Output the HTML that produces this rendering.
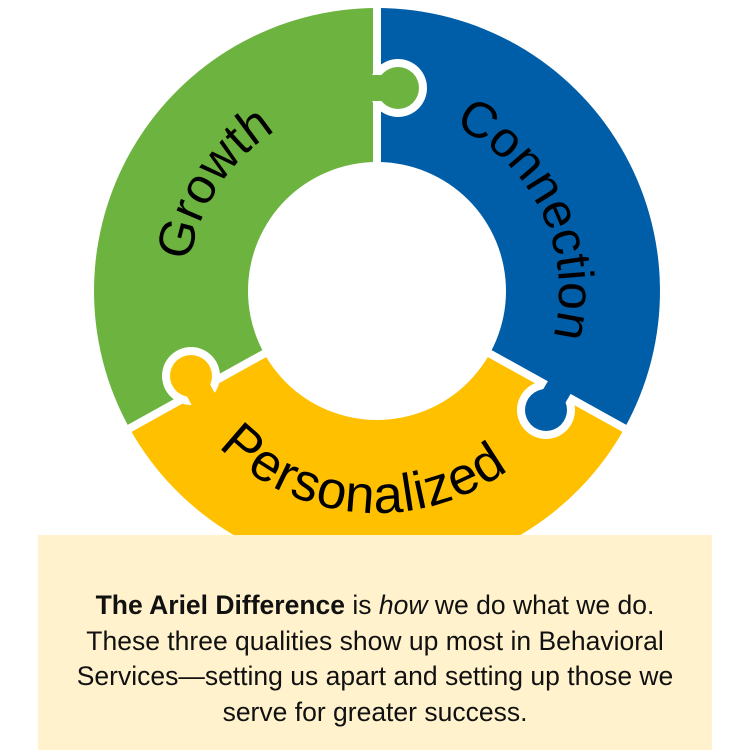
<!DOCTYPE html>
<html><head><meta charset="utf-8"><style>
html,body{margin:0;padding:0;background:#fff;width:750px;height:750px;overflow:hidden}
svg{position:absolute;left:0;top:0}
.box{position:absolute;left:38px;top:535px;width:674px;height:215px;background:#fff2cc;
font-family:"Liberation Sans",sans-serif;font-size:26.5px;line-height:35.5px;color:#111;text-align:center;box-sizing:border-box;padding-top:53px;white-space:nowrap}
</style></head><body>
<svg width="750" height="750" viewBox="0 0 750 750">
<path d="M377 291 L129.5 428.2 A283 283 0 0 1 377 8 Z" fill="#6db33f"/>
<path d="M377 291 L377 8 A283 283 0 0 1 624.5 428.2 Z" fill="#005ea8"/>
<path d="M377 291 L624.5 428.2 A283 283 0 0 1 129.5 428.2 Z" fill="#ffc000"/>
<g stroke="#fff" stroke-width="8">
<line x1="377" y1="291" x2="377" y2="0"/>
<line x1="377" y1="291" x2="640" y2="437"/>
<line x1="377" y1="291" x2="114" y2="437"/>
</g>
<g fill="#fff">
<circle cx="398" cy="88" r="29"/>
<circle cx="191" cy="376" r="29"/>
<circle cx="546" cy="410" r="29"/>
</g>
<g stroke-width="26">
<line x1="398" y1="88" x2="365" y2="88" stroke="#6db33f"/>
<line x1="191" y1="376" x2="205" y2="402.6" stroke="#ffc000"/>
<line x1="546" y1="410" x2="564.6" y2="378.5" stroke="#005ea8"/>
</g>
<circle cx="398" cy="88" r="21" fill="#6db33f"/>
<circle cx="191" cy="376" r="21" fill="#ffc000"/>
<circle cx="546" cy="410" r="21" fill="#005ea8"/>
<circle cx="377" cy="291" r="129" fill="#fff"/>
<defs>
<path id="pg" d="M187.5 291 A189.5 189.5 0 0 1 566.5 291"/>
<path id="pc" d="M377 109 A182 182 0 0 1 377 473"/>
<path id="pp" d="M155 291 A222 222 0 0 0 599 291"/>
</defs>
<g font-family="Liberation Sans,sans-serif" font-size="50" fill="#000" text-anchor="middle">
<text><textPath href="#pg" startOffset="18.5%">Growth</textPath></text>
<text><textPath href="#pc" startOffset="36%">Connection</textPath></text>
<text font-size="53" letter-spacing="1"><textPath href="#pp" startOffset="47.5%">Personalized</textPath></text>
</g>
</svg>
<div class="box"><b>The Ariel Difference</b> is <i>how</i> we do what we do.<br>These three qualities show up most in Behavioral<br>Services—setting us apart and setting up those we<br>serve for greater success.</div>
</body></html>
